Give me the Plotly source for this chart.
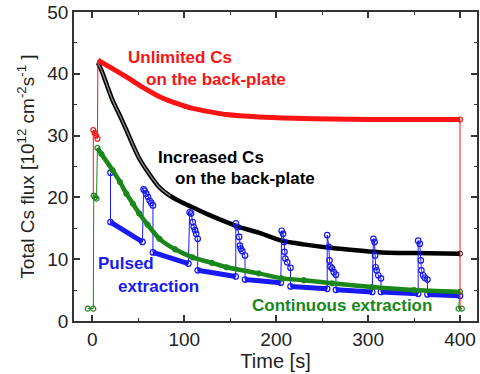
import plotly.graph_objects as go

# ---------------- data ----------------
red_t = [1, 1, 2.5, 4, 5.5, 6, 20, 37, 55, 73, 90, 109, 130, 146, 181, 220, 260, 300, 350, 400, 400]
red_v = [20.3, 30.9, 30.4, 30.0, 29.5, 42.2, 41.0, 39.5, 37.8, 36.3, 35.3, 34.4, 33.8, 33.4, 33.0, 32.8, 32.7, 32.6, 32.6, 32.6, 2.0]

black_t = [6, 10, 15, 22, 30, 37, 44, 51, 60, 73, 85, 100, 109, 125, 146, 160, 181, 206, 230, 261, 290, 315, 350, 400]
black_v = [41.8, 40.5, 38.5, 35.7, 33.2, 30.9, 28.5, 26.3, 24.2, 21.6, 20.2, 19.0, 18.4, 17.3, 16.0, 15.2, 14.3, 13.0, 12.4, 11.8, 11.4, 11.1, 11.0, 10.9]

green_t = [-5, 1, 1.5, 3, 4.5, 5.5, 10, 22, 30, 37, 44, 51, 60, 73, 90, 109, 130, 146, 181, 206, 230, 261, 304, 350, 400, 398.5, 402]
green_v = [2, 2, 20.3, 20.0, 19.8, 28.0, 27.0, 24.4, 22.5, 20.6, 19.0, 17.4, 15.6, 13.3, 11.6, 10.3, 9.4, 8.7, 7.7, 6.9, 6.6, 6.1, 5.5, 5.0, 4.7, 2, 2]

# pulsed extraction: start point, extraction segments and recovery pulses
blue_start_t = 19.7
blue_start_v = 24.0
seg_t0 = [19.7, 65.9, 114.6, 166.1, 215.6, 265.0, 314.0, 364.6]
seg_v0 = [16.0, 11.1, 8.2, 6.7, 5.6, 5.05, 4.7, 4.3]
seg_t1 = [54.5, 104.5, 156.0, 205.0, 255.5, 304.5, 354.5, 400.0]
seg_v1 = [12.8, 9.3, 7.2, 6.2, 5.2, 4.7, 4.4, 4.1]
pulse_t = [
    [55.7, 56.8, 58.6, 60.4, 62.3, 64.1, 65.9],
    [105.8, 107.4, 109.2, 110.3, 111.8, 112.9, 114.6],
    [156.1, 157.9, 159.7, 160.5, 161.5, 163.2, 166.1],
    [206.0, 207.5, 208.5, 209.0, 210.0, 212.0, 215.6],
    [255.5, 257.3, 258.0, 259.0, 260.8, 262.7, 265.0],
    [305.8, 307.0, 307.6, 308.2, 309.3, 311.1, 314.0],
    [354.5, 356.3, 357.4, 358.0, 359.9, 361.7, 364.6],
]
pulse_v = [
    [21.3, 21.1, 20.6, 20.1, 19.5, 19.1, 18.7],
    [17.6, 17.4, 16.0, 15.2, 14.7, 14.1, 13.3],
    [15.8, 15.2, 13.6, 12.2, 11.7, 11.3, 10.6],
    [14.6, 14.1, 12.8, 11.2, 10.1, 9.5, 8.6],
    [13.9, 12.0, 9.8, 8.8, 8.5, 7.9, 7.5],
    [13.3, 12.8, 10.6, 8.7, 8.2, 7.4, 6.9],
    [13.0, 12.5, 9.8, 8.2, 7.4, 7.0, 6.7],
]

x_ticks = [0, 100, 200, 300, 400]
y_ticks = [0, 10, 20, 30, 40, 50]

RED = "rgb(250,20,20)"
BLACK = "rgb(0,0,0)"
GREEN = "rgb(25,135,25)"
BLUE = "rgb(25,25,245)"
FONT = "Liberation Sans, Arial, sans-serif"

fig = go.Figure()

# black: increased Cs
fig.add_trace(go.Scatter(x=black_t, y=black_v, mode="lines", line=dict(color=BLACK, width=4.5, shape="spline", smoothing=0.6),
                         hoverinfo="skip", showlegend=False))
# hollow look of the densely packed open circles in the early part
fig.add_trace(go.Scatter(x=black_t[:11], y=black_v[:11], mode="lines",
                         line=dict(color="rgba(255,255,255,0.55)", width=1.3, shape="spline", smoothing=0.6),
                         hoverinfo="skip", showlegend=False))
fig.add_trace(go.Scatter(x=black_t[-1:], y=black_v[-1:], mode="markers",
                         marker=dict(symbol="circle-open", size=5, color=BLACK, line=dict(width=1)),
                         showlegend=False))

# blue: pulsed extraction
bt = [blue_start_t]
bv = [blue_start_v]
for i in range(len(seg_t0)):
    bt += [seg_t0[i], seg_t1[i]]
    bv += [seg_v0[i], seg_v1[i]]
    if i < len(pulse_t):
        bt += pulse_t[i]
        bv += pulse_v[i]
fig.add_trace(go.Scatter(x=bt, y=bv, mode="lines+markers", line=dict(color=BLUE, width=1),
                         marker=dict(symbol="circle-open", size=5.5, color=BLUE, line=dict(width=1.2)),
                         showlegend=False))
for i in range(len(seg_t0)):
    fig.add_trace(go.Scatter(x=[seg_t0[i], seg_t1[i]], y=[seg_v0[i], seg_v1[i]], mode="lines",
                             line=dict(color=BLUE, width=5), showlegend=False))

# green: continuous extraction
fig.add_trace(go.Scatter(x=green_t, y=green_v, mode="lines+markers", line=dict(color=GREEN, width=1),
                         marker=dict(symbol="circle-open", size=5, color=GREEN, line=dict(width=1.2)),
                         showlegend=False))
fig.add_trace(go.Scatter(x=green_t[5:25], y=green_v[5:25], mode="lines",
                         line=dict(color=GREEN, width=4.5, shape="spline", smoothing=0.6),
                         showlegend=False))

# red: unlimited Cs
fig.add_trace(go.Scatter(x=red_t, y=red_v, mode="lines", line=dict(color=RED, width=1),
                         showlegend=False))
fig.add_trace(go.Scatter(x=red_t[5:20], y=red_v[5:20], mode="lines",
                         line=dict(color=RED, width=5, shape="spline", smoothing=0.8),
                         showlegend=False))
fig.add_trace(go.Scatter(x=red_t[1:5] + red_t[19:20], y=red_v[1:5] + red_v[19:20], mode="markers",
                         marker=dict(symbol="circle-open", size=5, color=RED, line=dict(width=1.2)),
                         showlegend=False))

labels = [
    ("Unlimited Cs", 37.3, 42.7, RED),
    ("on the back-plate", 57.0, 39.0, RED),
    ("Increased Cs", 69.8, 26.5, BLACK),
    ("on the back-plate", 89.3, 23.1, BLACK),
    ("Pulsed", 4.9, 9.3, BLUE),
    ("extraction", 26.5, 5.6, BLUE),
    ("Continuous extraction", 172.6, 2.5, GREEN),
]
for text, x, y, c in labels:
    fig.add_annotation(x=x, y=y, text="<b>%s</b>" % text, showarrow=False, xanchor="left",
                       yanchor="middle", font=dict(family=FONT, size=17, color=c), borderpad=0)

axis_common = dict(showline=True, linecolor="#333", linewidth=1.5, mirror="ticks", ticks="inside",
                   ticklen=6, tickwidth=1.5, tickcolor="#333", showgrid=False, zeroline=False,
                   tickfont=dict(family=FONT, size=19, color="#222"))

fig.update_xaxes(range=[-20, 418.5], tickvals=x_ticks,
                 minor=dict(dtick=50, ticks="inside", ticklen=3.5, tickwidth=1.2, tickcolor="#333"),
                 title=dict(text="Time [s]", font=dict(family=FONT, size=20, color="#222"), standoff=2),
                 **axis_common)
fig.update_yaxes(range=[0, 50], tickvals=y_ticks,
                 minor=dict(dtick=5, ticks="inside", ticklen=3.5, tickwidth=1.2, tickcolor="#333"),
                 title=dict(text="Total Cs flux [10<sup>12</sup> cm<sup>-2</sup>s<sup>-1</sup> ]",
                            font=dict(family=FONT, size=19, color="#222"), standoff=8),
                 **axis_common)

fig.update_layout(width=480, height=374, margin=dict(l=74, r=1, t=12, b=53),
                  plot_bgcolor="white", paper_bgcolor="white", showlegend=False)

fig.write_html("out.html", config={"displayModeBar": False},
               post_script="document.body.style.margin='0px';document.body.style.overflow='hidden';")
